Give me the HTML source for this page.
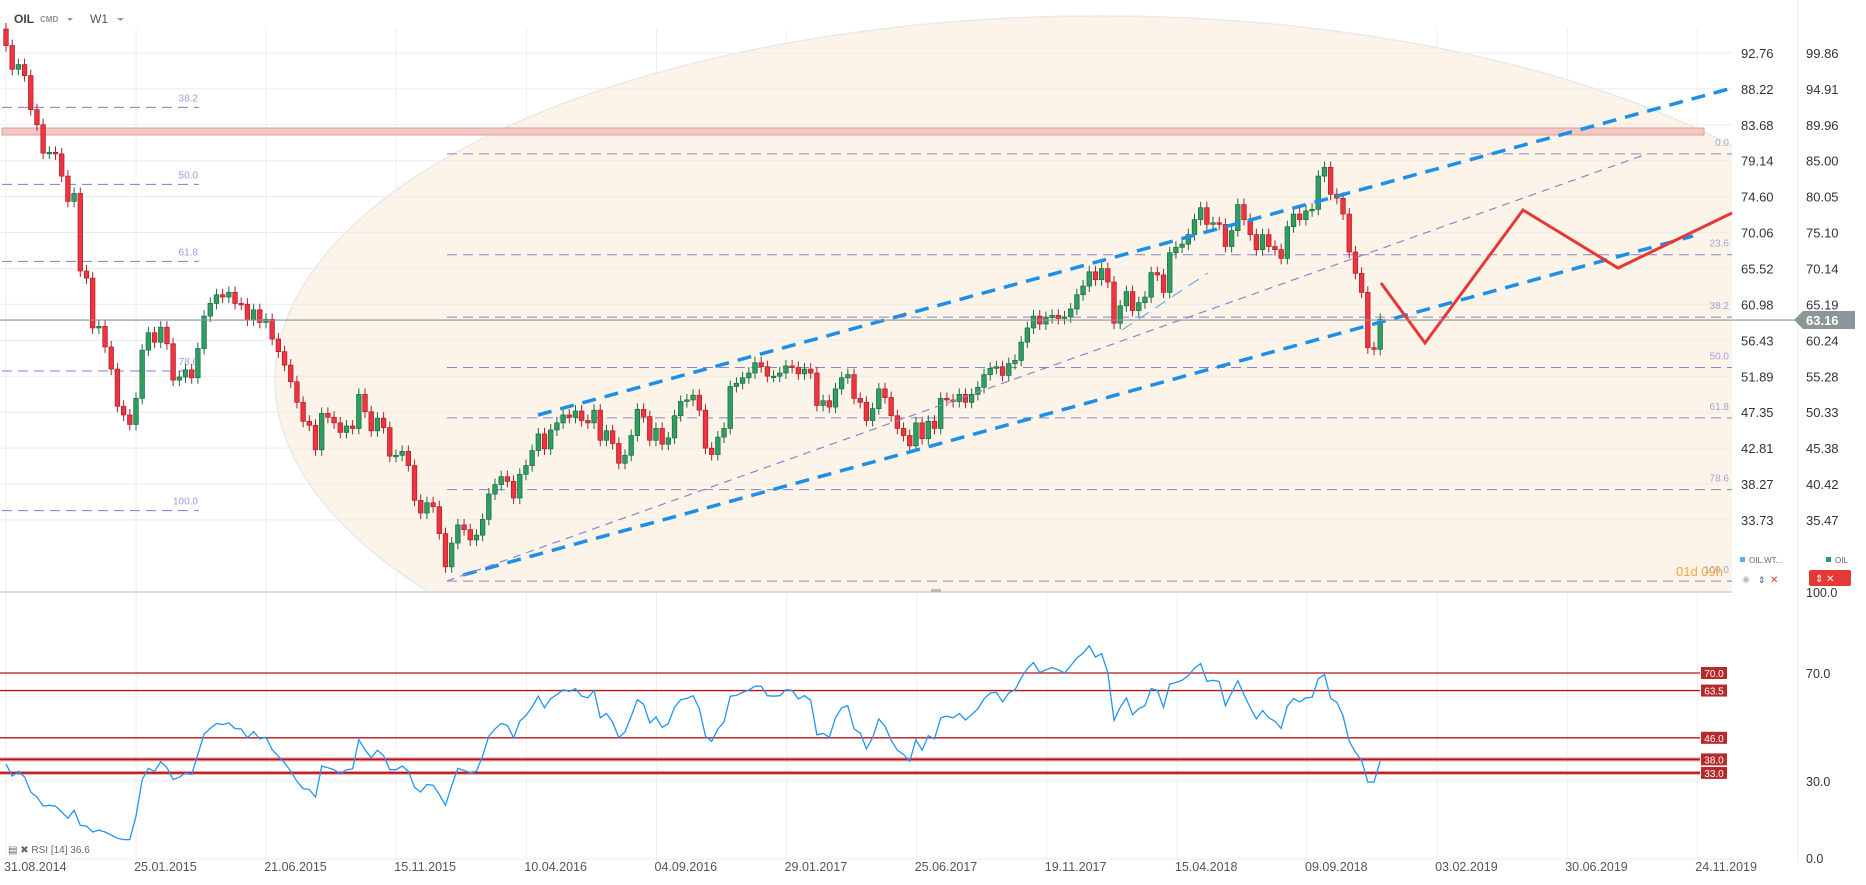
<!DOCTYPE html>
<html><head><meta charset="utf-8"><style>
html,body{margin:0;padding:0;background:#fff;}
svg{display:block;font-family:"Liberation Sans",sans-serif;}
</style></head><body>
<svg id="chart" width="1866" height="885" viewBox="0 0 1866 885" xmlns="http://www.w3.org/2000/svg">
<defs>
<clipPath id="mainClip"><rect x="0" y="0" width="1732" height="592"/></clipPath>
<clipPath id="rsiClip"><rect x="0" y="594" width="1700" height="266"/></clipPath>
</defs>
<rect width="1866" height="885" fill="#fff"/>
<g id="grid"></g>
<g clip-path="url(#mainClip)">
  <ellipse cx="1100" cy="380" rx="825" ry="364" fill="#fdf4e9" stroke="#e9e9e9" stroke-width="1.5"/>
</g>
<g id="hgrid"></g>
<rect x="2" y="128" width="1702" height="7" fill="#f6c6c3" stroke="#d2a3a0" stroke-width="1"/>
<g id="fibs"></g>
<g id="candles" clip-path="url(#mainClip)"></g>
<g id="annot"></g>
<g id="axes"></g>
<g id="rsi"></g>
<!-- header -->
<text x="14" y="23" font-size="12" font-weight="bold" fill="#444">OIL</text>
<text x="40" y="22" font-size="8" font-weight="bold" fill="#8a9299">CMD</text>
<path d="M67 18 l6 0 l-3 3 z" fill="#999"/>
<text x="90" y="23" font-size="12" fill="#555">W1</text>
<path d="M117 18 l7 0 l-3.5 3 z" fill="#999"/>
<!-- legend -->
<rect x="1740" y="557" width="5" height="5" fill="#4fb3f5"/>
<text x="1749" y="563" font-size="8" fill="#666">OIL.WT...</text>
<rect x="1826" y="557" width="5" height="5" fill="#22a060"/>
<text x="1835" y="563" font-size="8" fill="#666">OIL</text>
<text x="1742" y="582" font-size="9" fill="#bbb">◉</text>
<text x="1758" y="583" font-size="9" fill="#555">⇕</text>
<text x="1770" y="583" font-size="10" fill="#e53935">✕</text>
<rect x="1809" y="570" width="42" height="16" rx="2" fill="#e53935"/>
<text x="1815" y="582" font-size="10" fill="#fff">⇕ ✕</text>
<text x="1676" y="576" font-size="13" fill="#f0a63a">01d 09h</text>
<rect x="931" y="589" width="10" height="3" fill="#bbb"/>
<text x="8" y="853" font-size="10" fill="#666">▤ ✖ RSI [14] 36.6</text>
</svg>
<script>
// ---- data ----
const closes = [93.7,90.7,91.3,89.9,85.6,83.7,80.1,80.2,80.0,77.2,
74.0,75.0,65.2,64.3,58.0,58.2,55.6,52.8,48.1,47.0,
45.8,49.1,55.2,57.4,56.2,58.1,56.0,51.4,51.8,52.7,
51.7,55.4,59.5,61.1,62.2,61.9,62.5,61.1,61.0,59.0,
60.3,58.7,59.1,56.6,55.0,53.3,51.2,48.6,46.2,45.7,
42.6,47.2,46.7,46.0,44.8,45.6,45.3,49.6,47.4,45.0,
46.6,45.4,41.8,41.9,42.4,40.6,36.2,34.6,35.9,35.4,
32.0,27.8,30.8,33.1,32.5,31.2,31.8,33.8,37.0,38.2,
39.2,38.6,36.5,39.5,40.6,42.5,44.6,42.7,45.1,46.0,
47.0,46.7,47.5,46.3,46.0,47.6,43.8,45.0,43.4,40.9,
41.9,44.4,47.7,46.8,43.8,45.3,43.3,44.1,46.9,48.7,
48.9,49.5,47.6,42.8,42.0,44.2,45.3,50.6,51.0,51.7,
52.3,53.6,53.1,51.9,51.9,52.3,53.2,53.0,52.2,52.8,
52.3,48.2,48.8,48.0,50.3,51.7,52.1,49.1,48.6,46.3,
47.8,50.3,49.2,46.9,45.3,44.4,43.1,46.0,44.0,46.2,
45.3,49.1,48.9,48.7,49.6,48.6,49.6,50.5,52.1,52.9,
53.1,52.0,53.5,53.9,56.2,58.0,59.5,58.5,59.3,59.6,
59.2,59.4,60.4,62.2,63.3,65.1,64.1,65.5,63.8,58.6,
60.8,62.6,60.2,61.2,61.9,65.0,64.7,62.5,67.5,68.2,
68.6,69.8,71.7,73.2,71.1,71.3,71.1,68.3,70.3,73.6,
71.7,69.8,67.9,69.8,68.3,67.9,66.8,70.8,72.4,71.7,
72.8,73.0,77.2,78.3,74.9,74.4,72.4,67.6,64.9,62.5,
55.5,55.3,59.1];
const firstOpen = 95.8;
const rsiValues = [36.3,31.8,33.6,31.5,25.9,24.1,20.7,21.0,20.7,18.5,16.2,19.2,13.6,13.3,11.1,11.8,11.1,10.0,8.8,8.3,8.3,
17.0,30.5,34.7,33.6,37.2,35.0,30.5,31.4,33.0,32.5,39.9,47.4,49.5,51.3,50.9,51.5,49.4,49.3,46.0,48.3,45.6,46.2,41.6,39.2,36.7,33.6,29.9,27.2,26.8,24.0,35.5,34.9,34.2,32.6,34.2,34.5,45.3,41.6,38.6,41.4,39.4,34.2,34.2,35.5,33.6,27.7,25.9,28.7,28.4,25.0,21.0,28.3,34.7,33.9,33.0,
33.6,39.2,46.6,49.3,51.3,50.6,46.0,52.1,54.3,57.4,61.4,57.1,60.5,62.0,63.8,63.2,64.2,61.4,60.8,63.5,53.4,55.0,51.8,46.0,48.2,54.0,60.1,58.4,51.5,53.7,49.9,51.3,57.3,60.1,60.6,61.6,56.8,46.6,44.7,49.3,51.8,61.4,61.7,62.8,63.7,65.1,65.1,61.6,61.4,61.6,63.8,63.6,60.4,61.6,59.9,47.1,47.6,46.2,53.4,57.1,57.9,49.3,47.8,41.9,46.0,53.0,50.3,45.0,41.4,39.8,37.3,45.3,41.4,46.8,45.6,
53.4,54.0,53.4,55.0,52.6,54.6,56.7,60.4,62.6,62.8,59.3,62.6,63.8,68.2,71.6,73.9,70.2,71.2,72.0,71.2,70.0,72.7,75.5,77.4,80.1,75.9,77.2,70.2,52.5,57.3,60.8,54.6,56.8,57.9,64.2,63.6,57.3,65.9,66.5,67.3,69.0,71.8,73.5,66.9,67.3,66.9,57.9,62.6,67.2,62.0,57.2,53.0,56.1,53.4,52.1,49.5,57.7,60.5,59.3,60.8,61.0,67.9,69.4,60.6,59.1,54.2,44.7,40.7,37.6,29.6,29.6,37.3];
const dateLabels = ["31.08.2014","25.01.2015","21.06.2015","15.11.2015","10.04.2016","04.09.2016","29.01.2017","25.06.2017","19.11.2017","15.04.2018","09.09.2018","03.02.2019","30.06.2019","24.11.2019"];
const priceTicks = [92.76,88.22,83.68,79.14,74.60,70.06,65.52,60.98,56.43,51.89,47.35,42.81,38.27,33.73];
const priceTicks2 = ["99.86","94.91","89.96","85.00","80.05","75.10","70.14","65.19","60.24","55.28","50.33","45.38","40.42","35.47"];
const rsiLevels = [70.0,63.5,46.0,38.0,33.0];
const rsiTicks = [100,70,30,0];
const leftFibLevels = [38.2,50.0,61.8,78.6,100.0];
const rightFibLevels = [0.0,23.6,38.2,50.0,61.8,78.6,100.0];
const lastPriceLabel = "63.16";
const lastPrice = 59.0;

// ---- scales ----
const NS = "http://www.w3.org/2000/svg";
const xI = i => 6 + 6.19 * i;
const yP = p => 53 + (92.76 - p) * 7.91;
const yR = v => 592 + (100 - v) * 2.7;
function mk(tag, attrs, parent, txt){
  const e = document.createElementNS(NS, tag);
  for (const k in attrs) e.setAttribute(k, attrs[k]);
  if (txt !== undefined) e.textContent = txt;
  parent.appendChild(e); return e;
}
const grid = document.getElementById('grid');
const hgrid = document.getElementById('hgrid');
const axes = document.getElementById('axes');

// vertical gridlines + dates
dateLabels.forEach((d, k) => {
  const x = 6 + 130.1 * k;
  const gl = mk('line', {x1:x, y1:28, x2:x, y2:859, stroke:'#efefef', 'stroke-width':1}, grid);
  
  
  const t = mk('text', {x:x-2, y:871, 'font-size':12.5, fill:'#555'}, axes, d);
  
  
});
// price gridlines + labels
priceTicks.forEach((p, k) => {
  const y = yP(p);
  const gl = mk('line', {x1:0, y1:y, x2:1732, y2:y, stroke:'#ececec', 'stroke-width':1}, hgrid);
  
  
  const t = mk('text', {x:1741, y:y+5, 'font-size':13, fill:'#333'}, axes, p.toFixed(2));
  
  
  const t2 = mk('text', {x:1806, y:y+5, 'font-size':13, fill:'#333'}, axes, priceTicks2[k]);
  
  
});
const sep = mk('line', {x1:1798, y1:0, x2:1798, y2:862, stroke:'#ececec', 'stroke-width':1}, axes);


const pd = mk('line', {x1:0, y1:592, x2:1732, y2:592, stroke:'#dcdcdc', 'stroke-width':2}, axes);


const xl = mk('line', {x1:0, y1:859, x2:1732, y2:859, stroke:'#ececec', 'stroke-width':1}, axes);



// fibs
const fibs = document.getElementById('fibs');
const lf0 = 117.4, lf100 = 34.9;
leftFibLevels.forEach(l => {
  const y = yP(lf0 - l/100*(lf0-lf100));
  const ln = mk('line', {x1:2, y1:y, x2:199, y2:y, stroke:'#7b7fd0', 'stroke-width':1, 'stroke-dasharray':'10 6'}, fibs);
  
  
  const t = mk('text', {x:198, y:y-6, 'font-size':10, fill:'#9a9ede', 'text-anchor':'end'}, fibs, l.toFixed(1));
  
  
});
const rf0 = 80.0, rf100 = 26.0;
rightFibLevels.forEach(l => {
  const y = yP(rf0 - l/100*(rf0-rf100));
  const ln = mk('line', {x1:447, y1:y, x2:1732, y2:y, stroke:'#8784c8', 'stroke-width':1, 'stroke-dasharray':'10 6'}, fibs);
  
  
  const t = mk('text', {x:1729, y:y-8, 'font-size':10, fill:'#a4a1d6', 'text-anchor':'end'}, fibs, l.toFixed(1));
  
  
});

// current price line
const cp = mk('line', {x1:0, y1:yP(lastPrice), x2:1796, y2:yP(lastPrice), stroke:'#8c9597', 'stroke-width':1.2}, axes);


const cpy = yP(lastPrice);
const cpb = mk('path', {d:`M1794 ${cpy} l9 -9 h52 v18 h-52 z`, fill:'#8c9597'}, axes);


const cpt = mk('text', {x:1806, y:cpy+5, 'font-size':13, 'font-weight':'bold', fill:'#fff'}, axes, lastPriceLabel);



// candles
const cg = document.getElementById('candles');
closes.forEach((c, i) => {
  const o = i === 0 ? firstOpen : closes[i-1];
  const up = c >= o;
  const x = xI(i);
  const top = yP(Math.max(o, c)), bot = yP(Math.min(o, c));
  const col = up ? '#2f9e62' : '#f0333f';
  const edge = up ? '#1c6b3f' : '#a8212a';
  const w = mk('line', {x1:x, y1:top-6, x2:x, y2:bot+6, stroke:edge, 'stroke-width':1}, cg);
  
  
  const b = mk('rect', {x:x-2.3, y:top, width:4.6, height:Math.max(1.5, bot-top), fill:col, stroke:edge, 'stroke-width':0.7}, cg);
  
  
});

// annotations
const an = document.getElementById('annot');
const lines = [
  ['upper-channel-line', 538,415,1732,88,'#1e8fe8',3.5,'14 9'],
  ['lower-channel-line', 463,575,1693,236,'#1e8fe8',3.5,'14 9'],
  ['mid-trend-line', 447,581,1647,154,'#8a86c6',1.2,'8 6'],
  ['short-trend-line', 1122,330,1208,273,'#4aa8f0',1,'12 8']
];
lines.forEach(L => {
  const e = mk('line', {x1:L[1], y1:L[2], x2:L[3], y2:L[4], stroke:L[5], 'stroke-width':L[6], 'stroke-dasharray':L[7]}, an);
  
  
});
const fp = mk('polyline', {points:'1381,283 1425,343 1523,210 1618,268 1732,213', fill:'none', stroke:'#e53935', 'stroke-width':3}, an);



// RSI pane
const rg = document.getElementById('rsi');
const rs = mk('line', {x1:0, y1:yR(30), x2:1700, y2:yR(30), stroke:'#ececec', 'stroke-width':1}, rg);


rsiLevels.forEach((v, k) => {
  const y = yR(v);
  const thick = v < 40;
  if (thick) {
    const h = mk('line', {x1:0, y1:y, x2:1700, y2:y, stroke:'#e9a3a3', 'stroke-width':4}, rg);
    
    
  }
  const ln = mk('line', {x1:0, y1:y, x2:1700, y2:y, stroke:'#b3141b', 'stroke-width':thick ? 1.8 : 1.3}, rg);
  
  
  const bx = mk('rect', {x:1701, y:y-6, width:26, height:12, fill:'#b52a2a'}, rg);
  
  
  const t = mk('text', {x:1714, y:y+4, 'font-size':10, fill:'#fff', 'text-anchor':'middle'}, rg, v.toFixed(1));
  
  
});
rsiTicks.forEach(v => {
  const t = mk('text', {x:1806, y:yR(v)+5 - (v===0?4:0), 'font-size':12.5, fill:'#333'}, rg, v.toFixed(1));
  
  
});
const pts = rsiValues.map((v, i) => xI(i).toFixed(1) + ',' + yR(v).toFixed(1)).join(' ');
const rl = mk('polyline', {points:pts, fill:'none', stroke:'#2196f3', 'stroke-width':1.3}, rg);


</script>
</body></html>
